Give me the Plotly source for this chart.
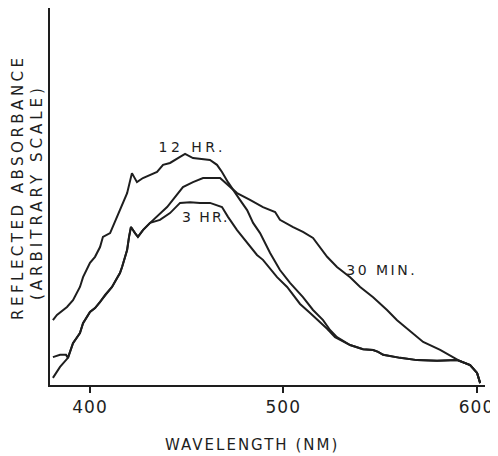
import plotly.graph_objects as go

# Wavelength (nm) and reflected absorbance (arbitrary units)
nm_30min = [380.8, 384.5, 388.6, 391.2, 394.8, 396.4, 400.0, 402.6, 405.2, 407.8, 411.4, 414.0,
            415.5, 416.6, 418.1, 419.2, 420.2, 421.2, 423.3, 424.8, 427.4, 431.1, 439.9, 448.1,
            453.3, 458.5, 467.3, 471.4, 476.1, 482.8, 489.5, 495.8, 498.3, 505.1, 510.2, 515.4,
            519.0, 522.7, 527.8, 534.6, 539.8, 546.5, 553.7, 558.9, 572.4, 581.2, 590.5, 596.7,
            600.3, 601.9]
abs_30min = [1.9, 4.8, 7.2, 11.1, 13.8, 16.4, 19.4, 20.4, 22.0, 23.9, 26.0, 28.4,
             29.7, 31.3, 34.0, 35.8, 39.3, 41.9, 40.3, 39.3, 41.1, 43.0, 47.2, 52.5,
             53.8, 54.9, 54.9, 53.1, 50.9, 49.1, 47.2, 45.9, 43.8, 41.9, 40.6, 39.0,
             36.6, 34.0, 31.3, 28.6, 26.0, 23.3, 19.9, 17.2, 11.4, 9.3, 6.6, 5.3,
             3.2, 0.5]

nm_3hr = [380.8, 384.5, 387.6, 388.6, 391.2, 394.8, 396.4, 400.0, 402.6, 405.2, 407.8, 411.4,
          414.0, 415.5, 416.6, 418.1, 419.2, 420.2, 421.2, 423.3, 424.8, 427.4, 431.1, 436.2,
          441.4, 446.6, 451.8, 456.9, 462.1, 468.3, 471.4, 476.1, 481.3, 486.4, 489.5, 496.8,
          502.0, 508.7, 513.9, 519.0, 522.7, 526.8, 534.6, 541.3, 546.5, 549.1, 551.7, 560.5,
          569.3, 579.6, 590.0, 596.7, 600.3, 601.9]
abs_3hr = [7.4, 8.0, 8.0, 7.2, 11.1, 13.8, 16.4, 19.4, 20.4, 22.0, 23.9, 26.0,
           28.4, 29.7, 31.3, 34.0, 35.8, 39.3, 41.9, 40.3, 39.3, 41.1, 43.0, 43.8,
           45.6, 48.3, 48.5, 48.3, 48.3, 47.2, 44.6, 41.1, 37.7, 34.5, 33.2, 28.6,
           26.0, 21.5, 19.1, 16.7, 14.9, 12.7, 10.6, 9.5, 9.3, 8.8, 8.0, 7.2,
           6.6, 6.4, 6.6, 5.3, 3.2, 0.5]

nm_12hr = [380.8, 382.9, 388.1, 391.2, 394.8, 396.4, 400.0, 402.6, 405.2, 406.7, 410.4, 414.0,
           419.2, 421.7, 424.3, 427.4, 431.1, 434.7, 437.8, 441.4, 446.6, 449.2, 453.3, 462.1,
           465.7, 468.3, 471.4, 474.0, 477.6, 481.3, 484.4, 488.0, 493.2, 498.3, 503.5, 510.2,
           515.4, 520.6, 524.2, 527.8, 534.6, 541.3, 546.5, 549.1, 551.7, 560.5, 569.3, 579.6,
           590.0, 596.7, 600.3, 601.9]
abs_12hr = [17.2, 18.6, 20.7, 22.5, 26.0, 28.6, 32.4, 34.0, 36.6, 39.3, 40.3, 44.6,
            50.9, 56.2, 53.8, 54.9, 55.7, 56.5, 58.4, 58.9, 60.5, 61.3, 60.2, 59.7,
            58.4, 56.5, 53.8, 51.7, 49.1, 46.4, 43.0, 40.3, 35.0, 30.5, 27.1, 23.3,
            19.9, 17.2, 14.6, 12.7, 10.6, 9.5, 9.3, 8.8, 8.0, 7.2, 6.6, 6.4,
            6.6, 5.3, 3.2, 0.5]

series_names = ["30 MIN.", "3 HR.", "12 HR."]
label_nm = [551.0, 460.0, 452.8]
label_abs = [30.5, 44.6, 63.1]
x_ticks = [400, 500, 600]
x_title = "WAVELENGTH (NM)"
y_title_1 = "REFLECTED ABSORBANCE"
y_title_2 = "(ARBITRARY SCALE)"

INK = "#1e1e1e"
FONT = "DejaVu Sans"

fig = go.Figure()
for name, xs, ys in zip(series_names, [nm_30min, nm_3hr, nm_12hr], [abs_30min, abs_3hr, abs_12hr]):
    fig.add_trace(go.Scatter(x=xs, y=ys, mode="lines", name=name,
                             line=dict(color=INK, width=2), showlegend=False))

for name, lx, ly in zip(series_names, label_nm, label_abs):
    fig.add_annotation(x=lx, y=ly, xref="x", yref="y", text=name, showarrow=False,
                       xanchor="center", yanchor="middle",
                       font=dict(family=FONT, size=14, color=INK))

# plot area: 435 x 377 px
fig.add_annotation(x=(18 - 50) / 435, y=(385 - 187) / 377, xref="paper", yref="paper",
                   text=y_title_1, textangle=-90, showarrow=False,
                   xanchor="center", yanchor="middle", borderpad=0,
                   font=dict(family=FONT, size=15, color=INK))
fig.add_annotation(x=(37 - 50) / 435, y=(385 - 192) / 377, xref="paper", yref="paper",
                   text=y_title_2, textangle=-90, showarrow=False,
                   xanchor="center", yanchor="middle", borderpad=0,
                   font=dict(family=FONT, size=15, color=INK))
fig.add_annotation(x=(252 - 50) / 435, y=(385 - 445) / 377, xref="paper", yref="paper",
                   text=x_title, showarrow=False, xanchor="center", yanchor="middle",
                   font=dict(family=FONT, size=15, color=INK))

# page body has an 8px default margin, so the figure is offset by 8px
fig.update_layout(
    width=498, height=456, autosize=False,
    margin=dict(l=42, r=21, t=0, b=79),
    paper_bgcolor="white", plot_bgcolor="white",
    xaxis=dict(range=[379.3, 604.4], tickvals=x_ticks, ticktext=[str(t) for t in x_ticks],
               showline=True, linecolor=INK, linewidth=2, ticks="outside", ticklen=6,
               tickwidth=2, tickcolor=INK, showgrid=False, zeroline=False,
               tickfont=dict(family=FONT, size=17, color=INK)),
    yaxis=dict(range=[0, 100], showline=True, linecolor=INK, linewidth=2, ticks="",
               showticklabels=False, showgrid=False, zeroline=False),
)

post = """
var gd = document.getElementById('{plot_id}');
gd.querySelectorAll('.annotation-text').forEach(function(e) {
  var t = e.textContent;
  var s = '2.5px';
  if (t.indexOf('REFLECTED') === 0) s = '3.5px';
  if (t.indexOf('(ARB') === 0) s = '4px';
  if (t.indexOf('WAVE') === 0) s = '2px';
  if (t === '12 HR.') s = '3.5px';
  if (t === '3 HR.') s = '2px';
  e.style.letterSpacing = s;
});
gd.querySelectorAll('.xtick text').forEach(function(e) { e.style.letterSpacing = '1px'; });
"""

fig.write_html("out.html", post_script=post)
